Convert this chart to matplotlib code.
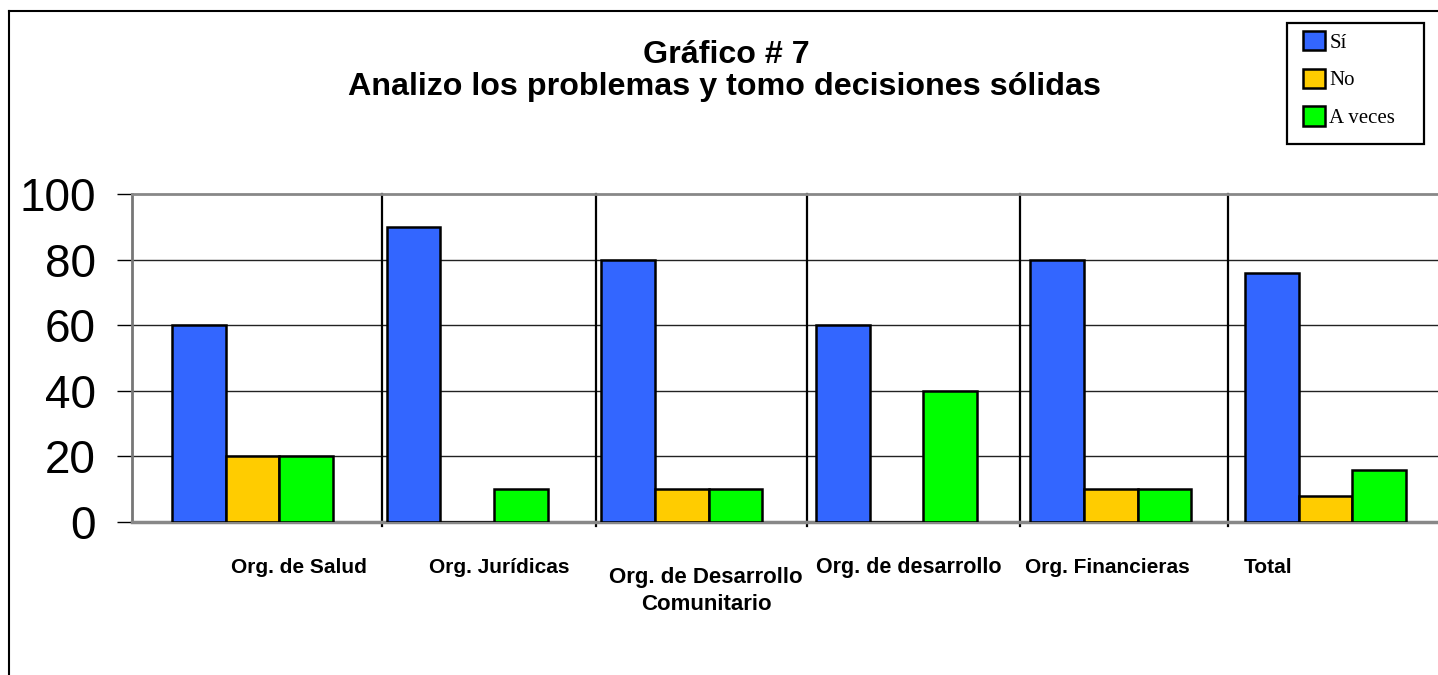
import matplotlib
matplotlib.use("Agg")
import matplotlib.pyplot as plt
from matplotlib.lines import Line2D
from matplotlib.patches import Patch, Rectangle
import numpy as np

# ---- data ----
categories = ["Org. de Salud", "Org. Jurídicas", "Org. de Desarrollo\nComunitario",
              "Org. de desarrollo", "Org. Financieras", "Total"]
series_names = ["Sí", "No", "A veces"]
si = [60, 90, 80, 60, 80, 76]
no = [20, 0, 10, 0, 10, 8]
a_veces = [20, 10, 10, 40, 10, 16]
yticks = [0, 20, 40, 60, 80, 100]
title_line1 = "Gráfico # 7"
title_line2 = "Analizo los problemas y tomo decisiones sólidas"

# ---- style / layout ----
colors = ["#3366FF", "#FFCC00", "#00FF00"]
W, H = 1438, 675
fig = plt.figure(figsize=(W / 100, H / 100), dpi=100)
fig.patch.set_facecolor("white")

ax_left, ax_right = 132 / W, 1.0
ax_bottom, ax_top = (H - 522) / H, (H - 194) / H
ax = fig.add_axes([ax_left, ax_bottom, ax_right - ax_left, ax_top - ax_bottom])

x = np.arange(len(categories))
bw = 0.25
for i, (vals, c) in enumerate(zip([si, no, a_veces], colors)):
    ax.bar(x + (i - 1) * bw, vals, width=bw, color=c, edgecolor="black",
           linewidth=1.8, zorder=3)

ax.set_ylim(0, 100)
xlim = (-0.5615, 5.524)
ax.set_xlim(*xlim)
ax.set_yticks(yticks)
ax.set_yticklabels([str(t) for t in yticks], fontsize=33, family="Liberation Sans")
ax.tick_params(axis="y", direction="out", length=11, width=1, color="black", pad=15)
ax.set_xticks([])

for t in yticks[1:-1]:
    ax.axhline(t, color="#222222", linewidth=1.0, zorder=1)

ax.spines["right"].set_visible(False)
ax.spines["top"].set_color("#888888")
ax.spines["top"].set_linewidth(2)
ax.spines["left"].set_color("#777777")
ax.spines["left"].set_linewidth(2)
ax.spines["bottom"].set_color("#888888")
ax.spines["bottom"].set_linewidth(2.5)

# category separators (as drawn in the original)
separators = [0.603, 1.601, 2.584, 3.576, 4.546]
for s in separators:
    ax.axvline(s, ymin=-0.012, ymax=1.0, color="black", linewidth=1.6,
               clip_on=False, zorder=2)

# category labels
label_x = [0.217, 1.152, 2.114, 3.060, 3.984, 4.732]
label_baseline_px = [573, 573, 610, 573, 573, 573]
label_size = [15, 15, 16, 15.5, 15, 15]
for lx, lb, fs, name in zip(label_x, label_baseline_px, label_size, categories):
    xf = ax_left + (lx - xlim[0]) / (xlim[1] - xlim[0]) * (ax_right - ax_left)
    fig.text(xf, (H - lb) / H, name, ha="center", va="baseline", fontsize=fs,
             fontweight="bold", family="Liberation Sans", linespacing=1.38,
             multialignment="center")

# title
fig.text(726 / W, (H - 63) / H, title_line1, ha="center", va="baseline",
         fontsize=23.2, fontweight="bold", family="Liberation Sans")
fig.text(724.5 / W, (H - 95) / H, title_line2, ha="center", va="baseline",
         fontsize=23.2, fontweight="bold", family="Liberation Sans")

# legend (entries) + frame
handles = [Patch(facecolor=c, edgecolor="black", linewidth=1.8) for c in colors]
leg = fig.legend(handles, series_names, loc="upper left",
                 bbox_to_anchor=(1303 / W, (H - 31) / H),
                 prop={"family": "Liberation Serif", "size": 15},
                 handlelength=1.05, handleheight=1.05, handletextpad=0.22,
                 labelspacing=0.76, borderpad=0, borderaxespad=0,
                 frameon=False)
fig.add_artist(Rectangle((1287 / W, (H - 144) / H), (1424 - 1287) / W, (144 - 23) / H,
                         transform=fig.transFigure, facecolor="none",
                         edgecolor="black", linewidth=1.6))

# outer chart frame (top and left edges visible)
fig.add_artist(Line2D([9 / W, 9 / W], [0, (H - 10.5) / H], color="black", linewidth=1.5))
fig.add_artist(Line2D([9 / W, 1.0], [(H - 10.5) / H, (H - 10.5) / H], color="black", linewidth=1.5))

fig.savefig("out.png", dpi=100)
